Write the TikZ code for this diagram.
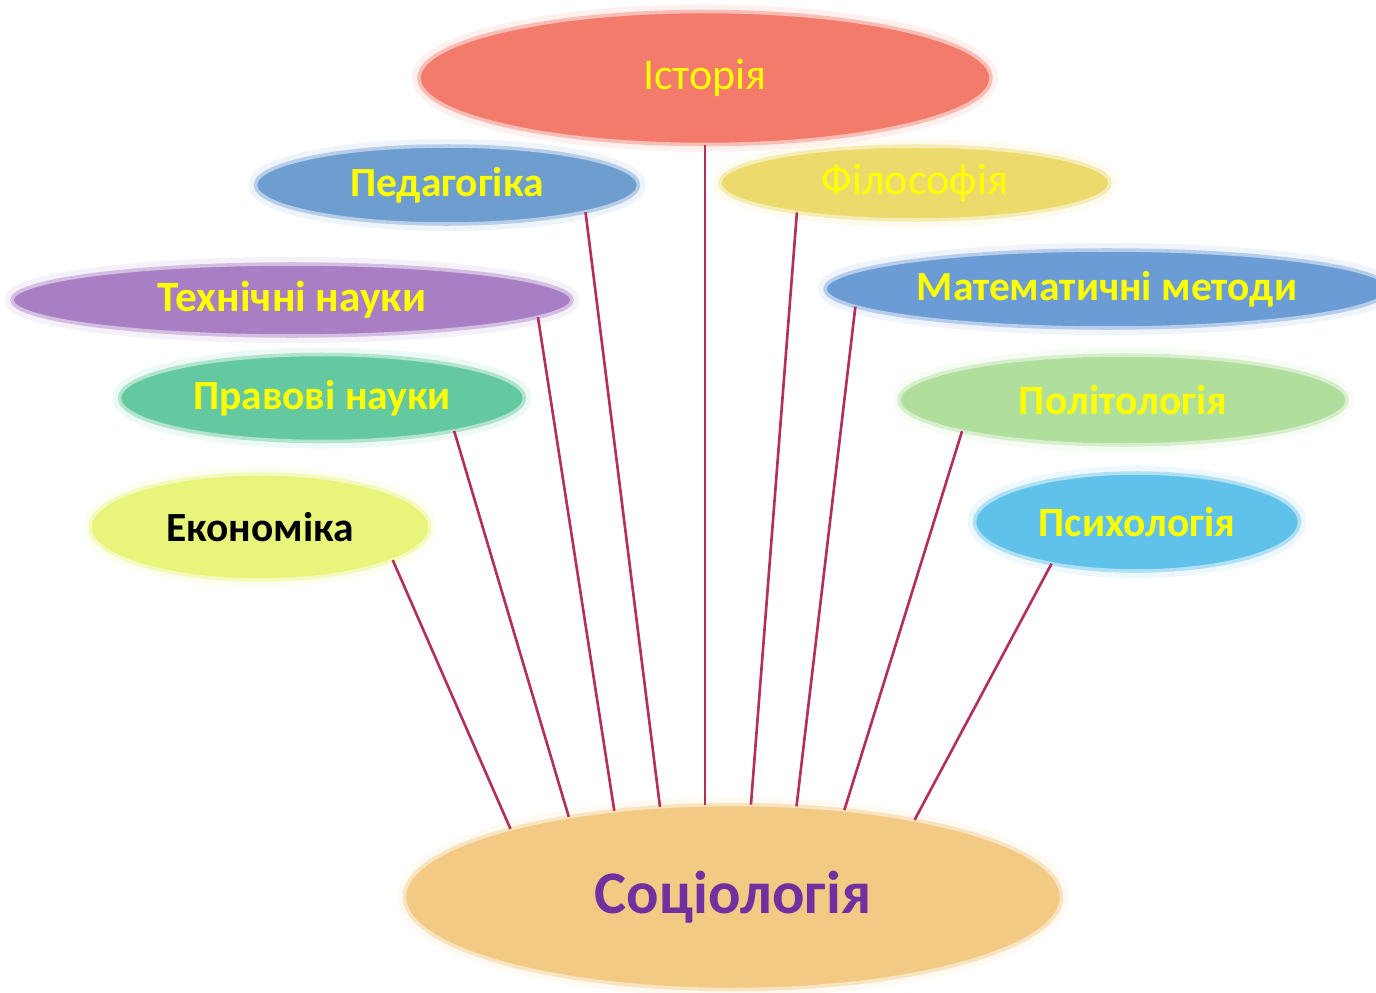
\documentclass[tikz,border=0pt]{standalone}
\usepackage{fontspec}
\setmainfont{Carlito}
\usetikzlibrary{shapes.geometric}
\definecolor{histfill}{HTML}{F27B6B}
\definecolor{pedfill}{HTML}{6E9ED0}
\definecolor{philfill}{HTML}{EDDA6C}
\definecolor{techfill}{HTML}{A87EC5}
\definecolor{mathfill}{HTML}{6B9CD6}
\definecolor{lawfill}{HTML}{64C8A0}
\definecolor{politfill}{HTML}{B0DE9C}
\definecolor{econfill}{HTML}{E8F47A}
\definecolor{psychfill}{HTML}{60C2EA}
\definecolor{socfill}{HTML}{F2CA84}
\definecolor{labeltext}{HTML}{FFFF00}
\definecolor{soctext}{HTML}{7030A0}
\definecolor{linkline}{HTML}{B2305A}
\tikzset{bubble/.style={ellipse, inner sep=0pt, outer sep=0pt, fill=#1,
    draw=#1!50!white, line width=1pt,
    preaction={draw=#1!25!white, line width=4pt, opacity=0.45},
    text=labeltext, font=\bfseries\fontsize{11.8}{14}\selectfont}}
\tikzstyle{link} = [draw=linkline, line width=0.75pt]

\begin{document}
\begin{tikzpicture}
    \useasboundingbox (0,0) rectangle (13.76,-9.93);
    % We start by placing the ellipses
    \node [bubble=histfill, minimum width=5.72cm, minimum height=1.33cm, font=\fontsize{12.5}{14}\selectfont] (hist) at (7.05,-0.78) {Історія};
    \node [bubble=pedfill, minimum width=3.83cm, minimum height=0.78cm] (ped) at (4.47,-1.85) {Педагогіка};
    \node [bubble=philfill, minimum width=3.90cm, minimum height=0.74cm, font=\fontsize{12.5}{14}\selectfont] (phil) at (9.15,-1.83) {Філософія};
    \node [bubble=techfill, minimum width=5.60cm, minimum height=0.72cm, font=\bfseries\fontsize{12.3}{14}\selectfont] (tech) at (2.92,-3.00) {Технічні науки};
    \node [bubble=mathfill, minimum width=5.64cm, minimum height=0.78cm] (math) at (11.07,-2.89) {Математичні методи};
    \node [bubble=lawfill, minimum width=4.05cm, minimum height=0.87cm] (law) at (3.22,-3.98) {Правові науки};
    \node [bubble=politfill, minimum width=4.48cm, minimum height=0.90cm] (polit) at (11.23,-4.00) {Політологія};
    \node [bubble=econfill, minimum width=3.40cm, minimum height=1.06cm, text=black] (econ) at (2.60,-5.27) {Економіка};
    \node [bubble=psychfill, minimum width=3.25cm, minimum height=0.98cm] (psych) at (11.37,-5.22) {Психологія};
    \node [bubble=socfill, minimum width=6.57cm, minimum height=1.85cm, text=soctext, font=\bfseries\fontsize{17.2}{20}\selectfont] (soc) at (7.33,-8.97) {Соціологія};

    % Once the ellipses are placed, the links go down to the base
    \draw [link] (econ.-14.5) -- (soc.163.5);
    \draw [link] (law.-14.6) -- (soc.154.5);
    \draw [link] (tech.-4.3) -- (soc.144.2);
    \draw [link] (ped.-11) -- (soc.129);
    \draw [link] (hist.south) -- (hist.south |- soc.north);
    \draw [link] (phil.-166.9) -- (soc.79);
    \draw [link] (math.-176) -- (soc.55.2);
    \draw [link] (polit.-169.2) -- (soc.38.2);
    \draw [link] (psych.-154.8) -- (soc.23.5);
\end{tikzpicture}
\end{document}
